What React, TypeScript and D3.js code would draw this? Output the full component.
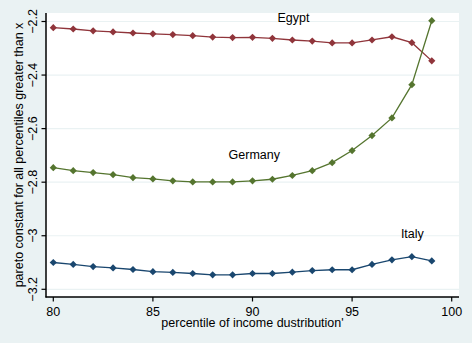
import React from "react";
import * as d3 from "d3";

const percentiles = [80, 81, 82, 83, 84, 85, 86, 87, 88, 89, 90, 91, 92, 93, 94, 95, 96, 97, 98, 99];
const italy = [-3.100, -3.107, -3.115, -3.120, -3.126, -3.134, -3.137, -3.141, -3.146, -3.146, -3.141, -3.141, -3.136, -3.130, -3.127, -3.127, -3.107, -3.090, -3.078, -3.094];
const egypt = [-2.223, -2.228, -2.235, -2.239, -2.243, -2.246, -2.249, -2.253, -2.258, -2.260, -2.259, -2.263, -2.269, -2.273, -2.280, -2.280, -2.269, -2.257, -2.279, -2.347];
const germany = [-2.746, -2.757, -2.764, -2.772, -2.783, -2.788, -2.795, -2.799, -2.799, -2.799, -2.795, -2.789, -2.775, -2.757, -2.727, -2.682, -2.626, -2.560, -2.436, -2.197];
const xTicks = [80, 85, 90, 95, 100];
const yTicks = [-3.2, -3, -2.8, -2.6, -2.4, -2.2];
const seriesNames = ["Italy", "Egypt", "Germany"];
const labelPos = [
  { x: 97.45, y: -3.01 },
  { x: 91.25, y: -2.203 },
  { x: 88.8, y: -2.713 },
];

const W = 472;
const H = 343;
const plotLeft = 46;
const plotRight = 459;
const plotTop = 13;
const plotBottom = 297;
const FONT = "'Liberation Sans', Arial, sans-serif";

export default function App() {
  const x = d3.scaleLinear().domain([80, 100]).range([53.3, 451.7]);
  const y = d3.scaleLinear().domain([-3.2, -2.2]).range([289.3, 21.5]);
  const colors = ["#1a476f", "#90353b", "#55752f"];
  const data = [italy, egypt, germany];
  const line = d3
    .line<number>()
    .x((_, i) => x(percentiles[i]))
    .y((d) => y(d));
  const diamond = (cx: number, cy: number, r: number) =>
    `M${cx},${cy - r}L${cx + r},${cy}L${cx},${cy + r}L${cx - r},${cy}Z`;

  return (
    <svg
      width={W}
      height={H}
      style={{ position: "absolute", left: 0, top: 0, display: "block" }}
      fontFamily={FONT}
    >
      <rect x={0} y={0} width={W} height={H} fill="#eaf2f3" />
      <rect x={plotLeft} y={plotTop} width={plotRight - plotLeft} height={plotBottom - plotTop} fill="#ffffff" />
      {yTicks.map((t) => (
        <line key={"g" + t} x1={plotLeft} x2={plotRight} y1={y(t)} y2={y(t)} stroke="#eaf2f3" strokeWidth={1.2} />
      ))}
      {data.map((vals, si) => (
        <g key={seriesNames[si]}>
          <path d={line(vals) || ""} fill="none" stroke={colors[si]} strokeWidth={1.3} />
          {vals.map((v, i) => (
            <path key={i} d={diamond(x(percentiles[i]), y(v), 3.6)} fill={colors[si]} />
          ))}
        </g>
      ))}
      {seriesNames.map((n, i) => (
        <text key={"l" + n} x={x(labelPos[i].x)} y={y(labelPos[i].y)} fontSize={12.5} fill="#000">
          {n}
        </text>
      ))}
      <line x1={plotLeft} x2={plotLeft} y1={plotTop} y2={plotBottom + 0.5} stroke="#000" strokeWidth={1.5} />
      <line x1={plotLeft - 0.5} x2={plotRight} y1={plotBottom} y2={plotBottom} stroke="#000" strokeWidth={1.5} />
      {yTicks.map((t) => (
        <g key={"yt" + t}>
          <line x1={plotLeft - 4.5} x2={plotLeft} y1={y(t)} y2={y(t)} stroke="#000" strokeWidth={1.2} />
          <text
            transform={`translate(${37},${y(t)}) rotate(-90)`}
            textAnchor="middle"
            fontSize={12.5}
            fill="#000"
          >
            {d3.format("")(t)}
          </text>
        </g>
      ))}
      {xTicks.map((t) => (
        <g key={"xt" + t}>
          <line x1={x(t)} x2={x(t)} y1={plotBottom} y2={plotBottom + 4.5} stroke="#000" strokeWidth={1.2} />
          <text x={x(t)} y={316} textAnchor="middle" fontSize={12.5} fill="#000">
            {t}
          </text>
        </g>
      ))}
      <text x={(plotLeft + plotRight) / 2} y={326.5} textAnchor="middle" fontSize={12.5} fill="#000">
        percentile of income dustribution'
      </text>
      <text
        transform={`translate(${23},${(plotTop + plotBottom) / 2}) rotate(-90)`}
        textAnchor="middle"
        fontSize={12.5}
        fill="#000"
      >
        pareto constant for all percentiles greater than x
      </text>
    </svg>
  );
}
